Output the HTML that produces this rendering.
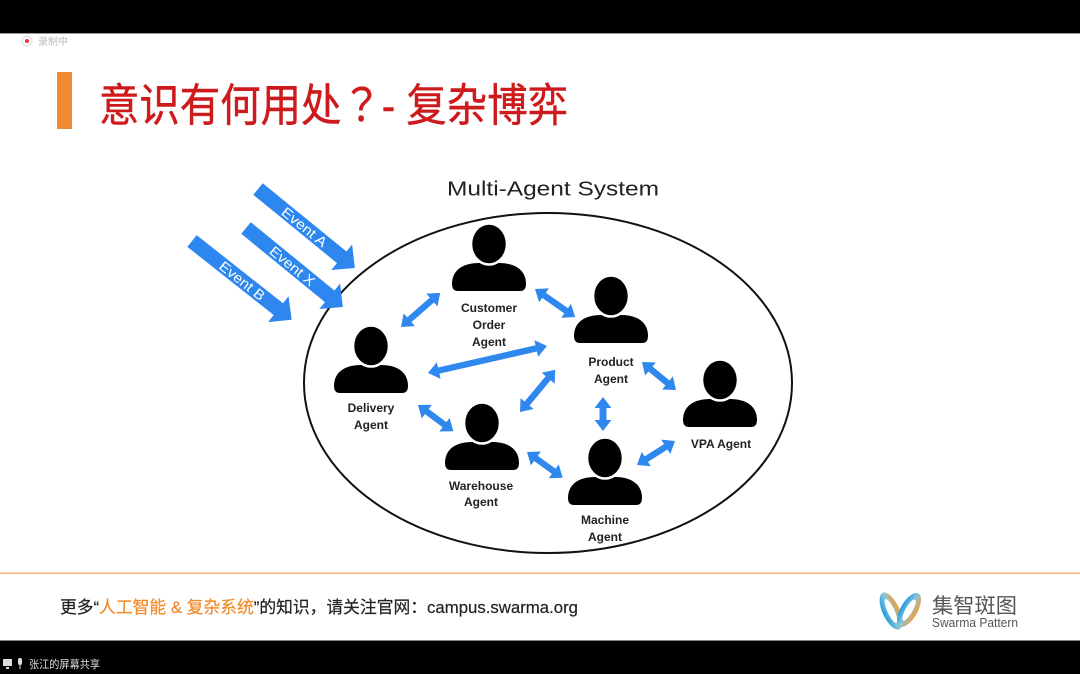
<!DOCTYPE html>
<html>
<head>
<meta charset="utf-8">
<style>
html,body{margin:0;padding:0;background:#fff;}
body{width:1080px;height:674px;overflow:hidden;}
svg{display:block;}
.lbl{font-family:"Liberation Sans","Noto Sans CJK SC",sans-serif;font-weight:bold;font-size:12px;fill:#222;text-anchor:middle;}
.ev{font-family:"Liberation Sans",sans-serif;font-size:14px;fill:#fff;text-anchor:middle;}
</style>
</head>
<body>
<svg width="1080" height="674" viewBox="0 0 1080 674" xmlns="http://www.w3.org/2000/svg">
  <defs>
    <g id="person">
      <path d="M -37 40 C -37 26 -26 19 -10 19 L 10 19 C 26 19 37 26 37 40 Q 37 47 31 47 L -31 47 Q -37 47 -37 40 Z" fill="#000"/>
      <ellipse cx="0" cy="0" rx="18" ry="20.5" fill="#000" stroke="#fff" stroke-width="2.6"/>
    </g>
    <linearGradient id="lg1" x1="0" y1="0" x2="1" y2="0">
      <stop offset="0" stop-color="#1d9be3"/>
      <stop offset="0.5" stop-color="#8cc7d8"/>
      <stop offset="1" stop-color="#f49a3a"/>
    </linearGradient>
  </defs>

  <!-- top bar -->
  <rect x="0" y="0" width="1080" height="33" fill="#000"/>
  <rect x="0" y="33" width="1080" height="1" fill="#999"/>
  <circle cx="27" cy="41" r="5" fill="#fff" stroke="#ddd" stroke-width="1"/>
  <circle cx="27" cy="41" r="2" fill="#e33"/>
  <text x="38" y="45" font-size="10" fill="#bbb" style="font-family:'Liberation Sans','Noto Sans CJK SC',sans-serif">录制中</text>

  <!-- title -->
  <rect x="57" y="72" width="15" height="57" fill="#f08a32"/>
  <g transform="translate(99,121) scale(1,1.12)">
    <text x="0" y="0" font-size="40" fill="#cd1a1c" stroke="#cd1a1c" stroke-width="0.4" textLength="469" lengthAdjust="spacingAndGlyphs" style="font-family:'Liberation Sans','Noto Sans CJK SC',sans-serif">意识有何用处<tspan style="font-family:'Noto Sans CJK TC',sans-serif">？</tspan>- 复杂博弈</text>
  </g>

  <!-- diagram title -->
  <text x="447" y="195.5" font-size="20.5" fill="#222" textLength="212" lengthAdjust="spacingAndGlyphs" style="font-family:'Liberation Sans',sans-serif">Multi-Agent System</text>

  <!-- ellipse -->
  <ellipse cx="548" cy="383" rx="244" ry="170" fill="none" stroke="#111" stroke-width="2"/>

  <!-- event arrows -->
  <g fill="#2d87ee">
    <g transform="translate(258,189) rotate(39.2)">
      <polygon points="0,-7.5 108,-7.5 108,-16.5 125,0 108,16.5 108,7.5 0,7.5"/>
      <text class="ev" x="60" y="5" textLength="54" lengthAdjust="spacingAndGlyphs">Event A</text>
    </g>
    <g transform="translate(246,228) rotate(39.2)">
      <polygon points="0,-7.5 108,-7.5 108,-16.5 125,0 108,16.5 108,7.5 0,7.5"/>
      <text class="ev" x="60" y="5" textLength="54" lengthAdjust="spacingAndGlyphs">Event X</text>
    </g>
    <g transform="translate(192,241) rotate(38.3)">
      <polygon points="0,-7.5 110,-7.5 110,-16.5 127,0 110,16.5 110,7.5 0,7.5"/>
      <text class="ev" x="64" y="5" textLength="54" lengthAdjust="spacingAndGlyphs">Event B</text>
    </g>
  </g>

  <!-- double arrows -->
  <g fill="#2f88ee">
    <polygon transform="translate(401,327) rotate(-41.1)" points="0,0 11,-8.5 11,-3.2 41,-3.2 41,-8.5 52,0 41,8.5 41,3.2 11,3.2 11,8.5"/>
    <polygon transform="translate(535,289) rotate(35)" points="0,0 11,-8.5 11,-3.2 38,-3.2 38,-8.5 49,0 38,8.5 38,3.2 11,3.2 11,8.5"/>
    <polygon transform="translate(428,373) rotate(-12.8)" points="0,0 11,-8.5 11,-3.2 111,-3.2 111,-8.5 122,0 111,8.5 111,3.2 11,3.2 11,8.5"/>
    <polygon transform="translate(520,412) rotate(-50.2)" points="0,0 11,-8.5 11,-3.2 44,-3.2 44,-8.5 55,0 44,8.5 44,3.2 11,3.2 11,8.5"/>
    <polygon transform="translate(418,405) rotate(36.6)" points="0,0 11,-8.5 11,-3.2 33,-3.2 33,-8.5 44,0 33,8.5 33,3.2 11,3.2 11,8.5"/>
    <polygon transform="translate(642,362) rotate(39.5)" points="0,0 11,-8.5 11,-3.2 33,-3.2 33,-8.5 44,0 33,8.5 33,3.2 11,3.2 11,8.5"/>
    <polygon transform="translate(603,397) rotate(90)" points="0,0 11,-8.5 11,-3.5 23,-3.5 23,-8.5 34,0 23,8.5 23,3.5 11,3.5 11,8.5"/>
    <polygon transform="translate(527,452) rotate(35.8)" points="0,0 11,-8.5 11,-3.2 33,-3.2 33,-8.5 44,0 33,8.5 33,3.2 11,3.2 11,8.5"/>
    <polygon transform="translate(637,465) rotate(-32.3)" points="0,0 11,-8.5 11,-3.2 34,-3.2 34,-8.5 45,0 34,8.5 34,3.2 11,3.2 11,8.5"/>
  </g>

  <!-- persons -->
  <use href="#person" transform="translate(489,244)"/>
  <use href="#person" transform="translate(611,296)"/>
  <use href="#person" transform="translate(371,346)"/>
  <use href="#person" transform="translate(720,380)"/>
  <use href="#person" transform="translate(482,423)"/>
  <use href="#person" transform="translate(605,458)"/>

  <!-- labels -->
  <text class="lbl" x="489" y="312">Customer</text>
  <text class="lbl" x="489" y="329">Order</text>
  <text class="lbl" x="489" y="346">Agent</text>
  <text class="lbl" x="611" y="366">Product</text>
  <text class="lbl" x="611" y="383">Agent</text>
  <text class="lbl" x="371" y="412">Delivery</text>
  <text class="lbl" x="371" y="429">Agent</text>
  <text class="lbl" x="721" y="448">VPA Agent</text>
  <text class="lbl" x="481" y="490">Warehouse</text>
  <text class="lbl" x="481" y="506">Agent</text>
  <text class="lbl" x="605" y="524">Machine</text>
  <text class="lbl" x="605" y="541">Agent</text>

  <!-- footer -->
  <rect x="0" y="572.5" width="1080" height="1.5" fill="#f6b07a"/>
  <text x="60" y="613" font-size="17" fill="#222" stroke="#222" stroke-width="0.2" textLength="518" lengthAdjust="spacingAndGlyphs" style="font-family:'Liberation Sans','Noto Sans CJK SC',sans-serif">更多“<tspan fill="#f08a2a" stroke="#f08a2a">人工智能 &amp; 复杂系统</tspan>”的知识，请关注官网：campus.swarma.org</text>

  <!-- logo -->
  <g>
    <ellipse cx="891" cy="611" rx="8.5" ry="20" transform="rotate(-25 891 611)" fill="url(#lg1)"/>
    <ellipse cx="891" cy="611" rx="3.5" ry="13" transform="rotate(-25 891 611)" fill="#fff"/>
    <ellipse cx="909" cy="610" rx="8.5" ry="19" transform="rotate(30 909 610)" fill="url(#lg1)"/>
    <ellipse cx="909" cy="610" rx="3.5" ry="12" transform="rotate(30 909 610)" fill="#fff"/>
  </g>
  <text x="932" y="613" font-size="21" fill="#555" textLength="85" lengthAdjust="spacingAndGlyphs" style="font-family:'Liberation Sans','Noto Sans CJK SC',sans-serif">集智斑图</text>
  <text x="932" y="627" font-size="12.5" fill="#555" textLength="86" lengthAdjust="spacingAndGlyphs" style="font-family:'Liberation Sans',sans-serif">Swarma Pattern</text>

  <!-- bottom bar -->
  <rect x="0" y="640" width="1080" height="34" fill="#000"/>
  <rect x="0" y="640" width="1080" height="1" fill="#888"/>
  <rect x="3" y="659" width="9" height="7" fill="#ddd"/>
  <rect x="6" y="667" width="3" height="2" fill="#ddd"/>
  <rect x="18" y="658" width="4" height="7" rx="2" fill="#ddd"/>
  <rect x="19.5" y="665" width="1" height="4" fill="#ddd"/>
  <text x="29" y="668" font-size="11" fill="#ddd" textLength="71" lengthAdjust="spacingAndGlyphs" style="font-family:'Liberation Sans','Noto Sans CJK SC',sans-serif">张江的屏幕共享</text>
</svg>
</body>
</html>
